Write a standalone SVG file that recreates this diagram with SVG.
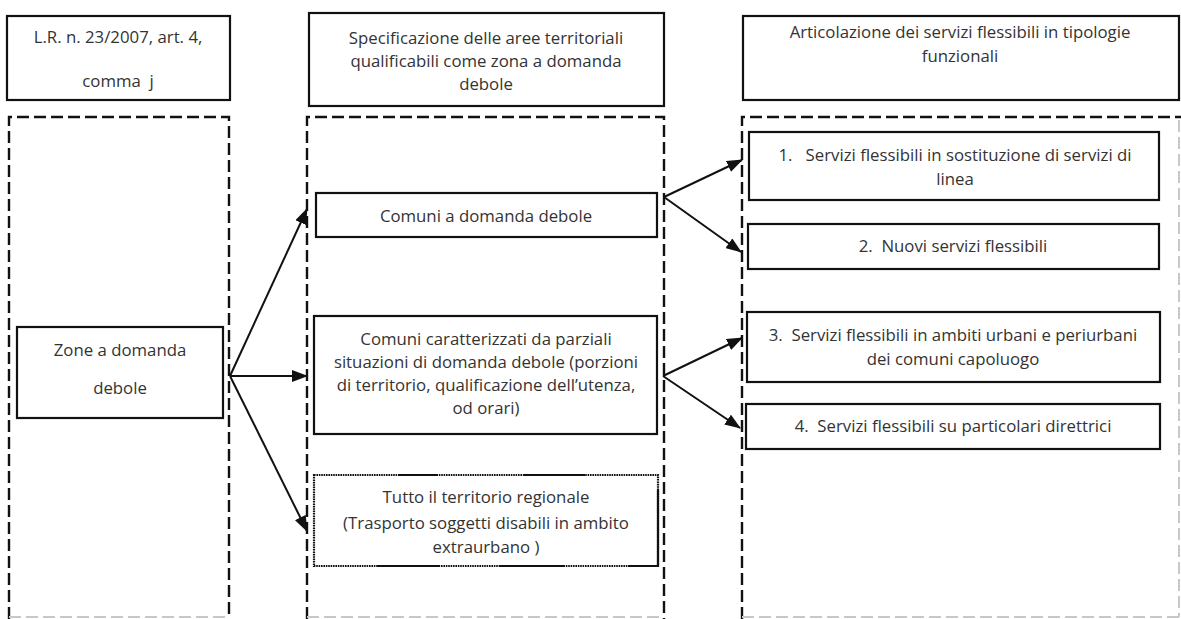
<svg xmlns="http://www.w3.org/2000/svg" width="1181" height="619" viewBox="0 0 1181 619">
  <style>
    .box { fill: #ffffff; stroke: #111111; stroke-width: 2.2; }
    .col { fill: none; stroke: #111111; stroke-width: 2.4; stroke-dasharray: 12 5; }
    .faint { fill: none; stroke: #c8c8c8; stroke-width: 2; stroke-dasharray: 12 5; }
    .lbl { font-family: "Open Sans", "Noto Sans", sans-serif; font-size: 16.8px; fill: #333333; text-anchor: middle; white-space: pre; }
    .conn { stroke: #111111; stroke-width: 2; fill: none; marker-end: url(#head); }
    .dot { fill: none; stroke: #111111; stroke-width: 2.2; stroke-dasharray: 1.6 0.8; }
    .solid { stroke: #111111; stroke-width: 2.2; }
  </style>
  <defs>
    <marker id="head" viewBox="0 0 16 12" refX="15" refY="6" markerWidth="16" markerHeight="12" markerUnits="userSpaceOnUse" orient="auto">
      <path d="M0,0 L16,6 L0,12 Z" fill="#111111"/>
    </marker>
  </defs>

  <rect width="1181" height="619" fill="#ffffff"/>

  <!-- column headers -->
  <g id="header-law">
    <rect class="box" x="7" y="16" width="223" height="84"/>
    <text class="lbl" x="118" y="43">L.R. n. 23/2007, art. 4,</text>
    <text class="lbl" x="118" y="87">comma  j</text>
  </g>
  <g id="header-areas">
    <rect class="box" x="309" y="13" width="355" height="93"/>
    <text class="lbl" x="486" y="44">Specificazione delle aree territoriali</text>
    <text class="lbl" x="486" y="67">qualificabili come zona a domanda</text>
    <text class="lbl" x="486" y="90">debole</text>
  </g>
  <g id="header-services">
    <rect class="box" x="743" y="16" width="436" height="84"/>
    <text class="lbl" x="960" y="38">Articolazione dei servizi flessibili in tipologie</text>
    <text class="lbl" x="960" y="62">funzionali</text>
  </g>

  <!-- dashed column frames -->
  <g id="frames">
    <path class="col" d="M9,619 V117 H229 V619"/>
    <path class="col" d="M307,619 V117 H664 V619"/>
    <path class="col" d="M742,619 V117 H1181"/>
    <path class="faint" d="M1179,120 V617"/>
    <path class="faint" d="M9,617 H229 M307,617 H664 M742,617 H1179"/>
  </g>

  <!-- first column -->
  <g id="zone">
    <rect class="box" x="17" y="327" width="206" height="91"/>
    <text class="lbl" x="120" y="356">Zone a domanda</text>
    <text class="lbl" x="120" y="394">debole</text>
  </g>

  <!-- second column -->
  <g id="comuni-deboli">
    <rect class="box" x="316" y="193" width="341" height="44"/>
    <text class="lbl" x="486" y="222">Comuni a domanda debole</text>
  </g>
  <g id="comuni-parziali">
    <rect class="box" x="314" y="316" width="343" height="118"/>
    <text class="lbl" x="486" y="345">Comuni caratterizzati da parziali</text>
    <text class="lbl" x="486" y="368">situazioni di domanda debole (porzioni</text>
    <text class="lbl" x="486" y="391">di territorio, qualificazione dell’utenza,</text>
    <text class="lbl" x="486" y="414">od orari)</text>
  </g>
  <g id="territorio-regionale">
    <rect class="dot" x="314" y="475" width="344" height="91"/>
    <path class="solid" d="M398,475 H437 M523,475 H585 M377,566 H440 M500,566 H565 M628,566 H658 M658,490 V566"/>
    <text class="lbl" x="486" y="503">Tutto il territorio regionale</text>
    <text class="lbl" x="486" y="529">(Trasporto soggetti disabili in ambito</text>
    <text class="lbl" x="486" y="553">extraurbano )</text>
  </g>

  <!-- third column -->
  <g id="tipo-1">
    <rect class="box" x="749" y="132" width="410" height="68"/>
    <text class="lbl" x="955" y="161">1.   Servizi flessibili in sostituzione di servizi di</text>
    <text class="lbl" x="955" y="185">linea</text>
  </g>
  <g id="tipo-2">
    <rect class="box" x="748" y="224" width="411" height="45"/>
    <text class="lbl" x="953" y="252">2.  Nuovi servizi flessibili</text>
  </g>
  <g id="tipo-3">
    <rect class="box" x="747" y="312" width="413" height="70"/>
    <text class="lbl" x="953" y="341">3.  Servizi flessibili in ambiti urbani e periurbani</text>
    <text class="lbl" x="953" y="365">dei comuni capoluogo</text>
  </g>
  <g id="tipo-4">
    <rect class="box" x="746" y="404" width="414" height="45"/>
    <text class="lbl" x="953" y="432">4.  Servizi flessibili su particolari direttrici</text>
  </g>

  <!-- connectors -->
  <g id="connectors">
    <line class="conn" x1="230" y1="376" x2="307" y2="209"/>
    <line class="conn" x1="230" y1="376" x2="307" y2="376"/>
    <line class="conn" x1="230" y1="376" x2="307" y2="531"/>
    <line class="conn" x1="664" y1="197" x2="742" y2="160"/>
    <line class="conn" x1="664" y1="197" x2="741" y2="252"/>
    <line class="conn" x1="663" y1="376" x2="742" y2="338"/>
    <line class="conn" x1="663" y1="376" x2="740" y2="428"/>
  </g>
</svg>
